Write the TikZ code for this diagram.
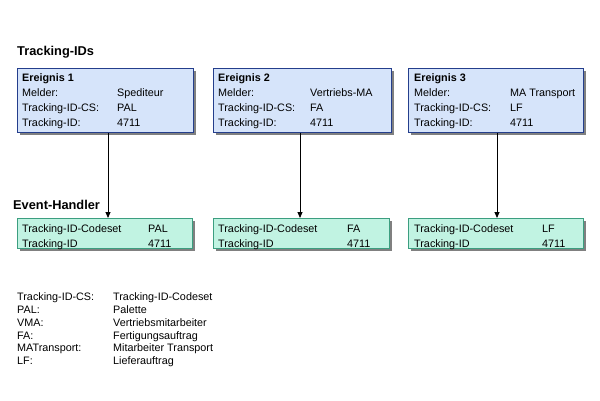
\documentclass[tikz,border=0pt]{standalone}
\usepackage{fontspec}
\setmainfont{Liberation Sans}
\usetikzlibrary{shadows,arrows.meta}
\definecolor{evfill}{RGB}{214,228,250}
\definecolor{evdraw}{RGB}{36,62,140}
\definecolor{hdfill}{RGB}{193,243,226}
\definecolor{hddraw}{RGB}{60,158,128}
\definecolor{shad}{RGB}{128,128,128}
\tikzset{
  txt/.style={anchor=base west, inner sep=0pt, font=\fontsize{10.8}{13}\selectfont},
  ttl/.style={anchor=base west, inner sep=0pt, font=\fontsize{12.8}{15}\selectfont\bfseries},
  evbox/.style={draw=evdraw, fill=evfill, line width=1pt, anchor=north west, inner sep=0pt,
    drop shadow={shadow xshift=2pt, shadow yshift=-2pt, fill=shad, opacity=1}},
  hdbox/.style={draw=hddraw, fill=hdfill, line width=1pt, anchor=north west, inner sep=0pt,
    drop shadow={shadow xshift=2pt, shadow yshift=-2pt, fill=shad, opacity=1}},
  conn/.style={-{Triangle[length=6pt,width=5pt]}, line width=0.8pt}
}
\begin{document}
\begin{tikzpicture}[x=1pt,y=-1pt]
\useasboundingbox (0,0) rectangle (600,400);
% titles
\node[ttl] (t1) at (17,55) {Tracking-IDs};
\node[ttl] (t2) at (13,209) {Event-Handler};
% Ereignis boxes
\node[evbox, minimum width=176pt, minimum height=64pt] (e1) at (17,68) {};
\node[evbox, minimum width=178pt, minimum height=64pt] (e2) at (213,68) {};
\node[evbox, minimum width=175pt, minimum height=64pt] (e3) at (408,68) {};
% Handler boxes
\node[hdbox, minimum width=175pt, minimum height=30pt] (h1) at (17,218) {};
\node[hdbox, minimum width=176pt, minimum height=30pt] (h2) at (213,218) {};
\node[hdbox, minimum width=175pt, minimum height=30pt] (h3) at (408,218) {};
% Ereignis 1 text
\node[txt,font=\fontsize{10.8}{13}\selectfont\bfseries] (e1a) at (22,81) {Ereignis 1};
\node[txt] (e1b) at (22,96) {Melder:};
\node[txt] (e1c) at (117,96) {Spediteur};
\node[txt] (e1d) at (22,111) {Tracking-ID-CS:};
\node[txt] (e1e) at (117,111) {PAL};
\node[txt] (e1f) at (22,126) {Tracking-ID:};
\node[txt] (e1g) at (117,126) {4711};
% Ereignis 2 text
\node[txt,font=\fontsize{10.8}{13}\selectfont\bfseries] (e2a) at (218,81) {Ereignis 2};
\node[txt] (e2b) at (218,96) {Melder:};
\node[txt] (e2c) at (310,96) {Vertriebs-MA};
\node[txt] (e2d) at (218,111) {Tracking-ID-CS:};
\node[txt] (e2e) at (310,111) {FA};
\node[txt] (e2f) at (218,126) {Tracking-ID:};
\node[txt] (e2g) at (310,126) {4711};
% Ereignis 3 text
\node[txt,font=\fontsize{10.8}{13}\selectfont\bfseries] (e3a) at (414,81) {Ereignis 3};
\node[txt] (e3b) at (414,96) {Melder:};
\node[txt] (e3c) at (510,96) {MA Transport};
\node[txt] (e3d) at (414,111) {Tracking-ID-CS:};
\node[txt] (e3e) at (510,111) {LF};
\node[txt] (e3f) at (414,126) {Tracking-ID:};
\node[txt] (e3g) at (510,126) {4711};
% Handler text
\node[txt] (h1a) at (22,232) {Tracking-ID-Codeset};
\node[txt] (h1b) at (148,232) {PAL};
\node[txt] (h1c) at (22,247) {Tracking-ID};
\node[txt] (h1d) at (148,247) {4711};
\node[txt] (h2a) at (218,232) {Tracking-ID-Codeset};
\node[txt] (h2b) at (347,232) {FA};
\node[txt] (h2c) at (218,247) {Tracking-ID};
\node[txt] (h2d) at (347,247) {4711};
\node[txt] (h3a) at (414,232) {Tracking-ID-Codeset};
\node[txt] (h3b) at (542,232) {LF};
\node[txt] (h3c) at (414,247) {Tracking-ID};
\node[txt] (h3d) at (542,247) {4711};
% arrows
\draw[conn] (108,0 |- e1.south) -- (108,0 |- h1.north);
\draw[conn] (300,0 |- e2.south) -- (300,0 |- h2.north);
\draw[conn] (497,0 |- e3.south) -- (497,0 |- h3.north);
% legend
\node[txt] (l1a) at (17,300) {Tracking-ID-CS:};
\node[txt] (l1b) at (113,300) {Tracking-ID-Codeset};
\node[txt] (l2a) at (17,313) {PAL:};
\node[txt] (l2b) at (113,313) {Palette};
\node[txt] (l3a) at (17,326) {VMA:};
\node[txt] (l3b) at (113,326) {Vertriebsmitarbeiter};
\node[txt] (l4a) at (17,339) {FA:};
\node[txt] (l4b) at (113,339) {Fertigungsauftrag};
\node[txt] (l5a) at (17,351) {MATransport:};
\node[txt] (l5b) at (113,351) {Mitarbeiter Transport};
\node[txt] (l6a) at (17,364) {LF:};
\node[txt] (l6b) at (113,364) {Lieferauftrag};
\end{tikzpicture}
\end{document}
